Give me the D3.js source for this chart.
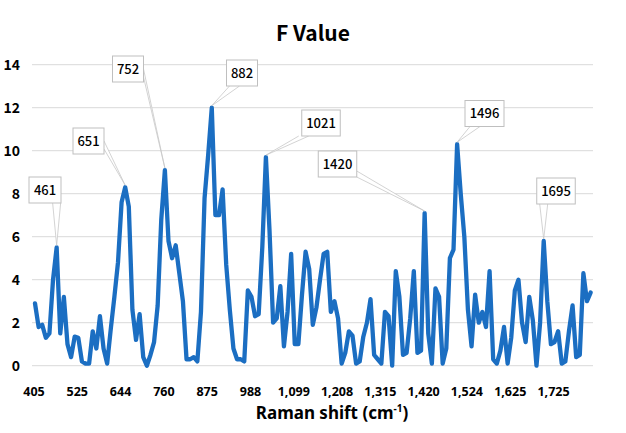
<!DOCTYPE html>
<html><head><meta charset="utf-8">
<script src="https://cdn.jsdelivr.net/npm/d3@7"></script>
<style>body{margin:0;background:#fff}svg{display:block}</style>
</head><body>
<svg id="c" width="626" height="433"></svg>
<script>
// F value per Raman channel (equally spaced category axis, 12 channels per labelled tick)
const fValues = [
2.9,1.8,1.9,1.3,1.5,4.0,5.5,1.5,3.2,1.0,
0.4,1.35,1.3,0.2,0.1,0.1,1.6,0.8,2.3,0.8,
0.1,1.7,3.2,4.8,7.6,8.3,7.4,2.6,1.2,2.4,
0.4,0.0,0.5,1.1,2.8,6.8,9.1,5.8,5.0,5.6,
4.3,3.0,0.3,0.3,0.4,0.2,2.5,7.8,9.8,12.0,
7.0,7.0,8.2,4.7,2.6,0.8,0.3,0.3,0.2,3.5,
3.2,2.3,2.4,5.5,9.7,6.3,2.0,2.2,3.7,0.9,
2.5,5.2,1.0,1.0,3.3,5.3,4.5,1.9,2.7,4.0,
5.2,5.3,2.5,3.0,2.2,0.1,0.6,1.6,1.4,0.1,
0.2,1.35,2.0,3.1,0.5,0.3,0.1,2.5,2.3,0.0,
4.4,3.2,0.5,0.6,2.2,4.4,0.6,0.7,7.1,1.5,
0.1,3.6,3.2,0.1,0.8,5.0,5.4,10.3,8.0,6.0,
2.6,0.9,3.3,2.0,2.5,1.8,4.4,0.3,0.1,0.7,
1.8,0.1,1.3,3.5,4.0,2.0,1.1,3.2,2.1,0.0,
2.0,5.8,3.0,1.0,1.1,1.6,0.1,0.2,1.6,2.8,
0.4,0.5,4.3,3.0,3.4
];
const perTick = 12;
const xTickLabels = ["405","525","644","760","875","988","1,099","1,208","1,315","1,420","1,524","1,625","1,725"];
const yTicks = [0,2,4,6,8,10,12,14];
// peak callouts: channel index, label, box centre
const peakIdx = [6,25,36,49,64,108,117,141];
const peakLabels = ["461","651","752","882","1021","1420","1496","1695"];
const boxCx = [45,88.5,128,242,321,337.5,484.5,556];
const boxCy = [190,141,69,73,123,164,113.5,191];

const svg = d3.select("#c");
const x = d3.scaleLinear().domain([0, fValues.length-1]).range([35, 590.6]);
const y = d3.scaleLinear().domain([0,14]).range([365.7, 64.7]);
const font = "'Noto Sans CJK KR','Noto Sans',sans-serif";
const font2 = "'Noto Sans',sans-serif";

// gridlines
svg.append("g").selectAll("line").data(yTicks).join("line")
  .attr("x1",32).attr("x2",593).attr("y1",d=>y(d)).attr("y2",d=>y(d))
  .attr("stroke","#d9d9d9").attr("stroke-width",1);

// y tick labels
svg.append("g").selectAll("text").data(yTicks).join("text")
  .attr("x",20).attr("y",d=>y(d)).attr("dy","0.35em").attr("text-anchor","end")
  .attr("font-family",font).attr("font-size",14).attr("font-weight",700).attr("fill","#000")
  .text(d=>d);

// x tick labels
svg.append("g").selectAll("text").data(xTickLabels).join("text")
  .attr("x",(d,i)=>x(i*perTick)-1).attr("y",396).attr("text-anchor","middle")
  .attr("font-family",font2).attr("font-size",12.5).attr("font-weight",700).attr("fill","#000")
  .text(d=>d);

// line
svg.append("path").datum(fValues)
  .attr("d", d3.line().x((d,i)=>x(i)).y(d=>y(d)))
  .attr("fill","none").attr("stroke","#1b6ec2").attr("stroke-width",4.3)
  .attr("stroke-linejoin","round").attr("stroke-linecap","round");

// callouts
const bw = [32,31,31,31,38.5,38.5,39,38.5], bh = 26;
const cg = svg.append("g");
peakIdx.forEach((pi,k)=>{
  const px = x(pi), py = y(fValues[pi]);
  const cx = boxCx[k], cy = boxCy[k], w = bw[k];
  let ax, ay, dx=0, dy=0;
  const left = cx-w/2, right = cx+w/2, top = cy-bh/2, bot = cy+bh/2;
  if (py > bot + 5 && px > left-20 && px < right+20) { ax = Math.max(left+4, Math.min(right-4, px)); ay = bot; dx = 4; }
  else if (px > right) { ax = right; ay = cy+4; dy = 4; }
  else { ax = left; ay = cy+4; dy = 4; }
  if (k===3) { ax = left+8; ay = bot; dx = 5; dy = 0; }
  if (k===4) { ax = left+2; ay = bot; dx = 5; dy = 0; }
  if (k===6) { ax = left+10; ay = bot; dx = 5; dy = 0; }
  if (k===5) { ax = right; ay = bot-3; dx = 0; dy = 3; }
  cg.append("path")
    .attr("d", `M${ax-dx},${ay-dy}L${px},${py-2}L${ax+dx},${ay+dy}`)
    .attr("fill","#fff").attr("stroke","#c8c8c8").attr("stroke-width",0.8);
  cg.append("rect").attr("x",left).attr("y",top).attr("width",w).attr("height",bh)
    .attr("fill","#fff").attr("stroke","#bfbfbf").attr("stroke-width",1);
  cg.append("text").attr("x",cx).attr("y",cy).attr("dy","0.36em").attr("text-anchor","middle")
    .attr("font-family",font).attr("font-size",13).attr("font-weight",500).attr("fill","#000")
    .text(peakLabels[k]);
});

// title
svg.append("text").attr("x",313).attr("y",41).attr("text-anchor","middle")
  .attr("font-family",font).attr("font-size",21).attr("font-weight",700).attr("fill","#000")
  .text("F Value");

// axis title
const at = svg.append("text").attr("x",332).attr("y",419).attr("text-anchor","middle")
  .attr("font-family",font2).attr("font-size",17).attr("font-weight",700).attr("fill","#000");
at.append("tspan").text("Raman shift (cm");
at.append("tspan").attr("font-size",10).attr("dy",-7).text("-1");
at.append("tspan").attr("dy",7).text(")");
</script>
</body></html>
